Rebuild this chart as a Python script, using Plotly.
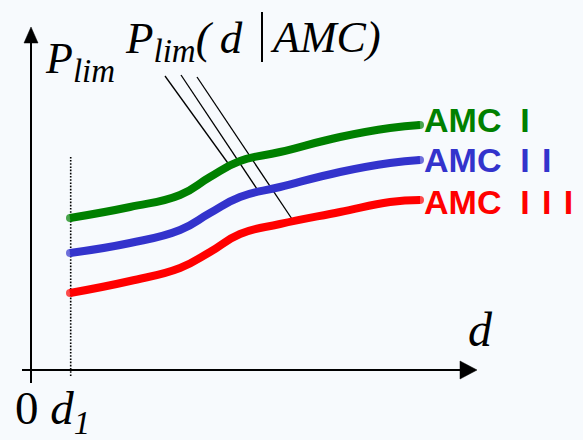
import plotly.graph_objects as go

# ---- data (x: distance d, y: P_lim), origin at the axes corner ----
d = [39, 99, 149, 179, 209, 249, 309, 359, 389]
p_amc1 = [152, 163, 175, 193, 209, 218, 233, 242, 245]
p_amc2 = [117, 127, 140, 157, 173, 183, 198, 207, 210]
p_amc3 = [77, 89, 102, 118, 136, 146, 158, 168, 170]
series_names = ["AMC\u00a0\u00a0I", "AMC\u00a0\u00a0I\u00a0\u200aI", "AMC\u00a0\u00a0I\u00a0\u200aI\u00a0\u200aI"]
series_colors = ["#008000", "#3333cc", "#ff0000"]
label_y = [250, 210, 168]
d1 = 39.7

# pointer lines from the P_lim(d|AMC) label to each curve
ptr_x = [[134, 199], [150, 228], [166, 263]]
ptr_y = [[294, 204], [295, 178], [293, 148]]

BG = "#f7fafd"
fig = go.Figure()

# axes lines
fig.add_trace(go.Scatter(x=[0, 0], y=[-13, 330], mode="lines",
                         line=dict(color="black", width=2), hoverinfo="skip"))
fig.add_trace(go.Scatter(x=[-9, 432], y=[0, 0], mode="lines",
                         line=dict(color="black", width=2), hoverinfo="skip"))
# arrow heads
fig.add_trace(go.Scatter(x=[-7, 7, 0, -7], y=[327, 327, 343, 327], mode="lines",
                         fill="toself", fillcolor="black", line=dict(color="black", width=0.5),
                         hoverinfo="skip"))
fig.add_trace(go.Scatter(x=[429, 429, 446, 429], y=[9, -9, 0, 9], mode="lines",
                         fill="toself", fillcolor="black", line=dict(color="black", width=0.5),
                         hoverinfo="skip"))
# dotted d1 line
fig.add_trace(go.Scatter(x=[d1, d1], y=[-6, 213], mode="lines",
                         line=dict(color="black", width=1.6, dash="1.6px,1.6px"), hoverinfo="skip"))

# pointer lines
for xs, ys in zip(ptr_x, ptr_y):
    fig.add_trace(go.Scatter(x=xs, y=ys, mode="lines",
                             line=dict(color="black", width=1.3), hoverinfo="skip"))

# curves (end markers emulate round line caps)
cap_sizes = [8] + [0] * (len(d) - 2) + [8]
for ys, c in zip([p_amc1, p_amc2, p_amc3], series_colors):
    fig.add_trace(go.Scatter(x=d, y=ys, mode="lines+markers",
                             line=dict(color=c, width=8, shape="spline", smoothing=1.3),
                             marker=dict(size=cap_sizes, color=c, line=dict(width=0)),
                             hoverinfo="skip"))

serif = "Liberation Serif, Times New Roman, serif"
sans = "Liberation Sans, Arial, sans-serif"
ann = []
for ly, c, name in zip(label_y, series_colors, series_names):
    ann.append(dict(x=d[-1] + 2, y=ly, text="<b>" + name + "</b>", showarrow=False,
                    xanchor="left", yanchor="middle", font=dict(family=sans, size=34, color=c)))

lim = "<sub><span style='font-size:33px'>lim</span></sub>"
ann += [
    dict(x=12, y=309, text="<i>P" + lim + "</i>", showarrow=False, xanchor="left",
         yanchor="middle", font=dict(family=serif, size=44, color="black")),
    dict(x=92, y=329, text="<i>P" + lim + "(\u2009d</i>", showarrow=False, xanchor="left",
         yanchor="middle", font=dict(family=serif, size=45, color="black")),
    dict(x=237, y=333, text="<i>AMC)</i>", showarrow=False, xanchor="left",
         yanchor="middle", font=dict(family=serif, size=44, color="black")),
    dict(x=435, y=41, text="<i>d</i>", showarrow=False, xanchor="left",
         yanchor="middle", font=dict(family=serif, size=48, color="black")),
    dict(x=-18, y=-41, text="0\u00a0<i>d<sub>1</sub></i>", showarrow=False, xanchor="left",
         yanchor="middle", font=dict(family=serif, size=47, color="black")),
]

fig.update_layout(
    width=583, height=440, margin=dict(l=0, r=0, t=0, b=0),
    paper_bgcolor=BG, plot_bgcolor=BG, showlegend=False,
    xaxis=dict(range=[-31, 552], visible=False, fixedrange=True),
    yaxis=dict(range=[-70, 370], visible=False, fixedrange=True),
    annotations=ann,
    shapes=[dict(type="line", xref="x", yref="y", x0=231, x1=231, y0=308, y1=358,
                 line=dict(color="black", width=2))],
)
fig.write_html("out.html", config={"displayModeBar": False},
               post_script="document.body.style.margin='0';document.body.style.background='%s';" % BG)
